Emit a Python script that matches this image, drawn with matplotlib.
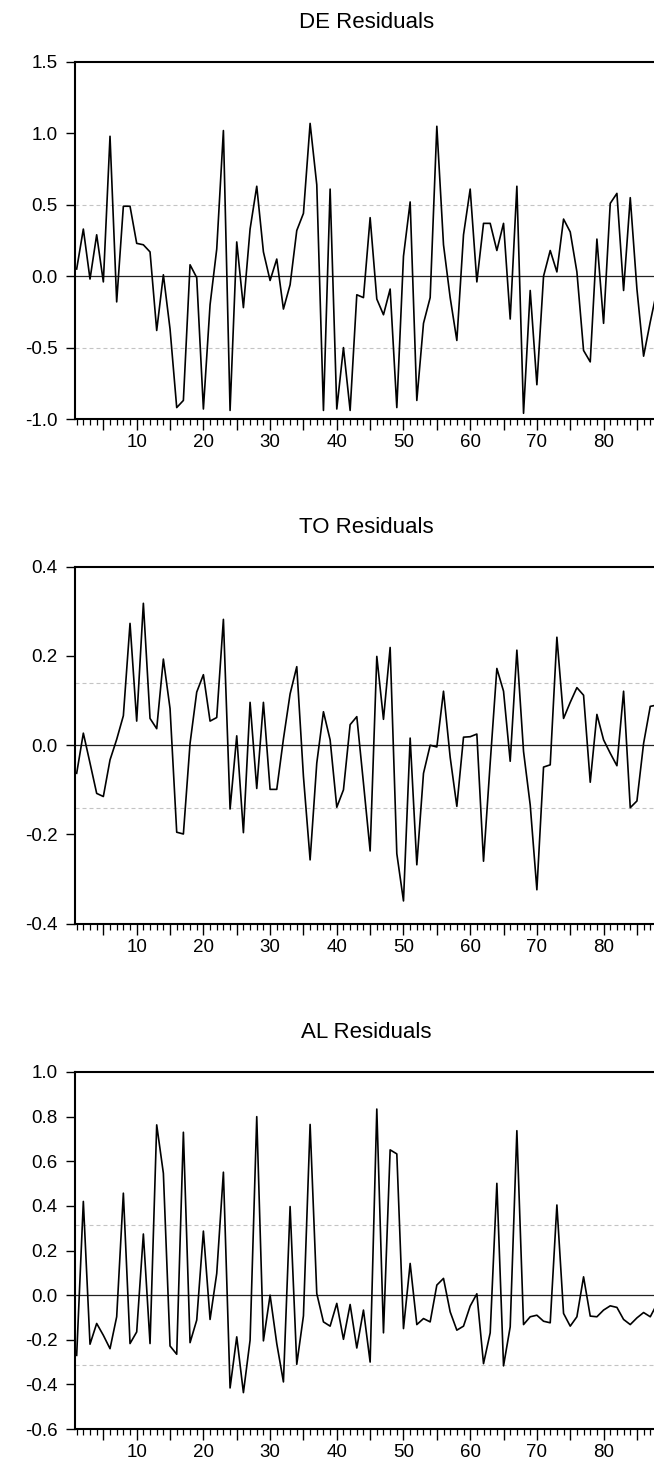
import matplotlib
matplotlib.use("Agg")
import matplotlib.pyplot as plt
from matplotlib.ticker import FixedLocator, FuncFormatter, MultipleLocator
import numpy as np

plt.rcParams['font.family'] = ['Liberation Sans', 'DejaVu Sans']

obs = list(range(1, 89))

de_resid = [0.05, 0.33, -0.02, 0.29, -0.04, 0.98, -0.18, 0.49, 0.49, 0.23,
            0.22, 0.17, -0.38, 0.01, -0.37, -0.92, -0.87, 0.08, -0.01, -0.93,
            -0.20, 0.19, 1.02, -0.94, 0.24, -0.22, 0.33, 0.63, 0.17, -0.03,
            0.12, -0.23, -0.06, 0.32, 0.44, 1.07, 0.64, -0.94, 0.61, -0.93,
            -0.50, -0.94, -0.13, -0.15, 0.41, -0.16, -0.27, -0.09, -0.92, 0.14,
            0.52, -0.87, -0.33, -0.15, 1.05, 0.22, -0.15, -0.45, 0.29, 0.61,
            -0.04, 0.37, 0.37, 0.18, 0.37, -0.30, 0.63, -0.96, -0.10, -0.76,
            0.00, 0.18, 0.03, 0.40, 0.31, 0.03, -0.52, -0.60, 0.26, -0.33,
            0.51, 0.58, -0.10, 0.55, -0.09, -0.56, -0.32, -0.10]

to_resid = [-0.063, 0.027, -0.040, -0.108, -0.115, -0.033, 0.013, 0.066, 0.273, 0.054,
            0.318, 0.060, 0.037, 0.193, 0.082, -0.195, -0.199, 0.004, 0.119, 0.158,
            0.054, 0.062, 0.282, -0.143, 0.021, -0.196, 0.096, -0.097, 0.096, -0.099,
            -0.099, 0.014, 0.115, 0.176, -0.070, -0.257, -0.040, 0.075, 0.012, -0.139,
            -0.100, 0.046, 0.064, -0.085, -0.237, 0.199, 0.058, 0.219, -0.243, -0.349,
            0.016, -0.268, -0.063, 0.000, -0.004, 0.121, -0.027, -0.137, 0.018, 0.019,
            0.025, -0.260, -0.040, 0.172, 0.121, -0.036, 0.213, -0.014, -0.134, -0.324,
            -0.049, -0.044, 0.242, 0.060, 0.096, 0.129, 0.112, -0.083, 0.069, 0.012,
            -0.018, -0.046, 0.121, -0.140, -0.125, 0.004, 0.087, 0.090]

al_resid = [-0.27, 0.42, -0.22, -0.127, -0.18, -0.24, -0.097, 0.457, -0.217, -0.165,
            0.274, -0.217, 0.763, 0.546, -0.228, -0.265, 0.730, -0.213, -0.112, 0.287,
            -0.109, 0.097, 0.551, -0.416, -0.187, -0.437, -0.202, 0.800, -0.205, 0.000,
            -0.217, -0.389, 0.397, -0.310, -0.093, 0.765, 0.007, -0.120, -0.139, -0.037,
            -0.198, -0.042, -0.237, -0.067, -0.300, 0.834, -0.169, 0.651, 0.633, -0.150,
            0.142, -0.132, -0.105, -0.120, 0.045, 0.075, -0.075, -0.157, -0.139, -0.049,
            0.006, -0.307, -0.169, 0.501, -0.317, -0.142, 0.737, -0.132, -0.097, -0.090,
            -0.117, -0.124, 0.404, -0.082, -0.139, -0.097, 0.082, -0.094, -0.097, -0.067,
            -0.048, -0.055, -0.109, -0.132, -0.102, -0.078, -0.097, -0.040]

titles = ["DE Residuals", "TO Residuals", "AL Residuals"]
series = [de_resid, to_resid, al_resid]
band_lines = [[0.50, -0.50], [0.14, -0.14], [0.316, -0.311]]
y_limits = [(-1.0, 1.5), (-0.4, 0.4), (-0.6, 1.0)]
y_ticks = [[-1.0, -0.5, 0.0, 0.5, 1.0, 1.5],
           [-0.4, -0.2, 0.0, 0.2, 0.4],
           [-0.6, -0.4, -0.2, 0.0, 0.2, 0.4, 0.6, 0.8, 1.0]]
x_major = list(range(5, 90, 5))

W, H = 654, 1461
fig = plt.figure(figsize=(W / 100, H / 100), dpi=100)

left_px, right_px = 75, 657.6
tops_px = [62, 566.7, 1072]
ax_h_px = 357
title_base_px = [28, 532.7, 1038]

for i in range(3):
    top = tops_px[i]
    ax = fig.add_axes([left_px / W, 1 - (top + ax_h_px) / H,
                       (right_px - left_px) / W, ax_h_px / H])
    for yv in band_lines[i]:
        ax.axhline(yv, color='#c4c4c4', lw=0.8, ls=(0, (3.6, 2.7)), zorder=1)
    ax.axhline(0.0, color='#222222', lw=0.9, zorder=2)
    ax.plot(obs, series[i], color='black', lw=1.2, zorder=3)
    ax.set_xlim(0.75, 88.1)
    ax.set_ylim(*y_limits[i])
    ax.set_yticks(y_ticks[i])
    ax.yaxis.set_major_formatter(FuncFormatter(lambda v, p: f"{v:.1f}"))
    ax.xaxis.set_major_locator(FixedLocator(x_major))
    ax.xaxis.set_minor_locator(MultipleLocator(1))
    ax.xaxis.set_major_formatter(
        FuncFormatter(lambda v, p: f"{int(round(v))}" if int(round(v)) % 10 == 0 else ""))
    ax.tick_params(axis='y', direction='out', length=6.5, width=1.0,
                   labelsize=13.5, pad=6)
    ax.tick_params(axis='x', which='major', direction='out', length=8,
                   width=1.0, labelsize=13.5, pad=3)
    ax.tick_params(axis='x', which='minor', direction='out', length=4.3,
                   width=0.9)
    for s in ['left', 'top', 'bottom', 'right']:
        ax.spines[s].set_linewidth(1.5)
    fig.text((left_px + right_px) / 2 / W, 1 - title_base_px[i] / H, titles[i],
             ha='center', va='baseline', fontsize=16)

fig.savefig("out.png", dpi=100)
